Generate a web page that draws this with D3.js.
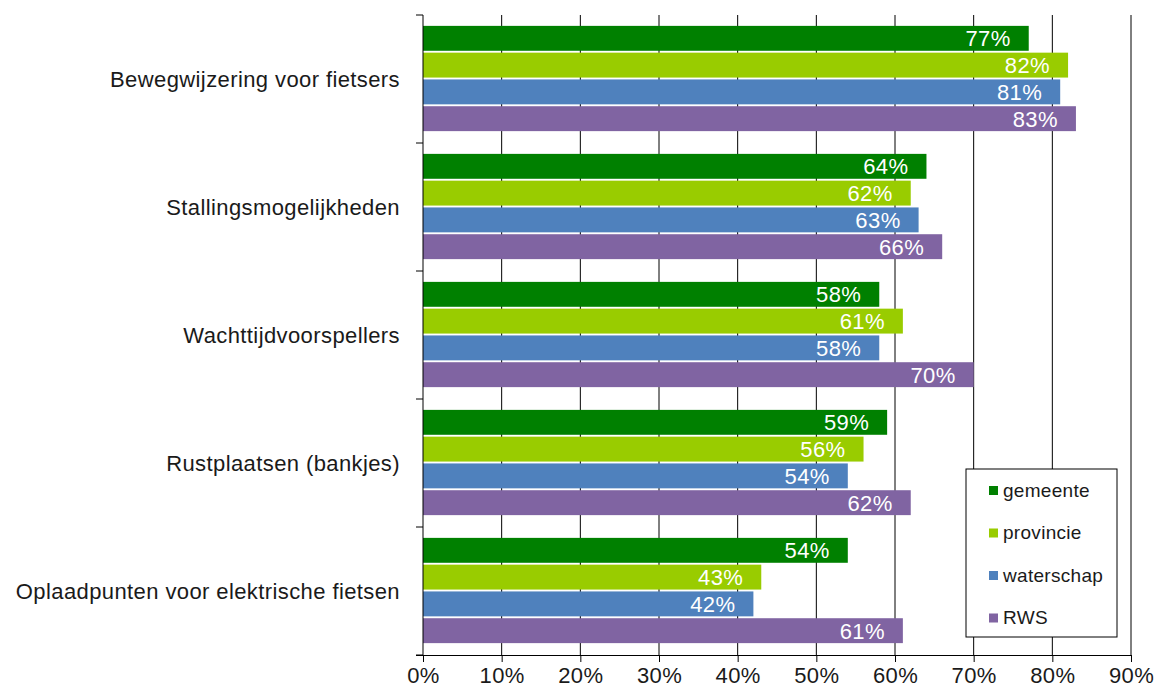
<!DOCTYPE html>
<html>
<head>
<meta charset="utf-8">
<script src="https://cdn.jsdelivr.net/npm/d3@7"></script>
<style>
  body { margin: 0; background: #fff; }
  text { font-family: "Liberation Sans", Arial, sans-serif; }
</style>
</head>
<body>
<svg id="chart" width="1157" height="687"></svg>
<script>
const categories = ["Bewegwijzering voor fietsers", "Stallingsmogelijkheden", "Wachttijdvoorspellers", "Rustplaatsen (bankjes)", "Oplaadpunten voor elektrische fietsen"];
const seriesNames = ["gemeente", "provincie", "waterschap", "RWS"];
const seriesColors = ["#008000", "#99cc00", "#4f81bd", "#8064a2"];
const gemeente = [77, 64, 58, 59, 54];
const provincie = [82, 62, 61, 56, 43];
const waterschap = [81, 63, 58, 54, 42];
const rws = [83, 66, 70, 62, 61];
const xTicks = [0, 10, 20, 30, 40, 50, 60, 70, 80, 90];

const allSeries = [gemeente, provincie, waterschap, rws];
const margin = { top: 15, left: 423, right: 26, bottom: 32 };
const width = 1157 - margin.left - margin.right;
const height = 687 - margin.top - margin.bottom;

const svg = d3.select("#chart")
const g = svg.append("g").attr("transform", "translate(" + margin.left + "," + margin.top + ")");

const x = d3.scaleLinear().domain([0, 90]).range([0, width]);
const y = d3.scaleBand().domain(categories).range([0, height]).paddingInner(0).paddingOuter(0);
const inner = d3.scaleBand().domain(seriesNames).range([9, y.bandwidth() - 10]).padding(0.07);

// grid
g.selectAll(".grid").data(xTicks.slice(1))
  .enter().append("line")
  .attr("x1", d => x(d)).attr("x2", d => x(d))
  .attr("y1", 0).attr("y2", height)
  .attr("stroke", "#000").attr("stroke-width", 1);

// bars
categories.forEach(function(cat, ci) {
  seriesNames.forEach(function(s, si) {
    const v = allSeries[si][ci];
    const by = y(cat) + inner(s);
    g.append("rect")
      .attr("x", 0).attr("y", by)
      .attr("width", x(v)).attr("height", inner.bandwidth())
      .attr("fill", seriesColors[si]);
    g.append("text")
      .attr("x", x(v) - 18).attr("y", by + inner.bandwidth() / 2)
      .attr("dy", "0.36em")
      .attr("text-anchor", "end")
      .attr("fill", "#fff")
      .attr("font-size", 22)
      .attr("letter-spacing", 0.4)
      .text(v + "%");
  });
});

// left axis
g.append("line").attr("x1", 0).attr("x2", 0).attr("y1", 0).attr("y2", height).attr("stroke", "#000");
g.selectAll(".ytick").data(d3.range(categories.length + 1))
  .enter().append("line")
  .attr("x1", -7).attr("x2", 0)
  .attr("y1", d => d * y.step()).attr("y2", d => d * y.step())
  .attr("stroke", "#000");
g.selectAll(".ylab").data(categories)
  .enter().append("text")
  .attr("x", -23).attr("y", d => y(d) + y.bandwidth() / 2)
  .attr("dy", "0.36em")
  .attr("text-anchor", "end")
  .attr("font-size", 22)
  .attr("letter-spacing", 0.4)
  .attr("fill", "#1a1a1a")
  .text(d => d);

// bottom axis
const xa = g.append("g").attr("transform", "translate(0," + height + ")")
  .call(d3.axisBottom(x).tickValues(xTicks).tickSize(7).tickSizeOuter(0).tickFormat(d => d + "%"));
xa.select(".domain").attr("stroke", "#000");
xa.selectAll(".tick line").attr("stroke", "#000");
xa.selectAll(".tick text").attr("font-size", 22).attr("fill", "#1a1a1a")
  .attr("letter-spacing", 0.4)
  .attr("font-family", "Liberation Sans, Arial, sans-serif").attr("dy", "0.8em");
xa.select(".domain").attr("d", "M-7,0.5H" + width);

// legend
const lg = svg.append("g").attr("transform", "translate(966,469)");
lg.append("rect").attr("width", 151).attr("height", 168)
  .attr("fill", "#fff").attr("stroke", "#000").attr("stroke-width", 1);
seriesNames.forEach(function(s, i) {
  const ly = 21 + i * 42.5;
  lg.append("rect").attr("x", 23).attr("y", ly - 4).attr("width", 9).attr("height", 9).attr("fill", seriesColors[i]);
  lg.append("text").attr("x", 37).attr("y", ly).attr("dy", "0.36em")
    .attr("font-size", 19).attr("letter-spacing", 0.3).attr("fill", "#1a1a1a").text(s);
});
</script>
</body>
</html>
